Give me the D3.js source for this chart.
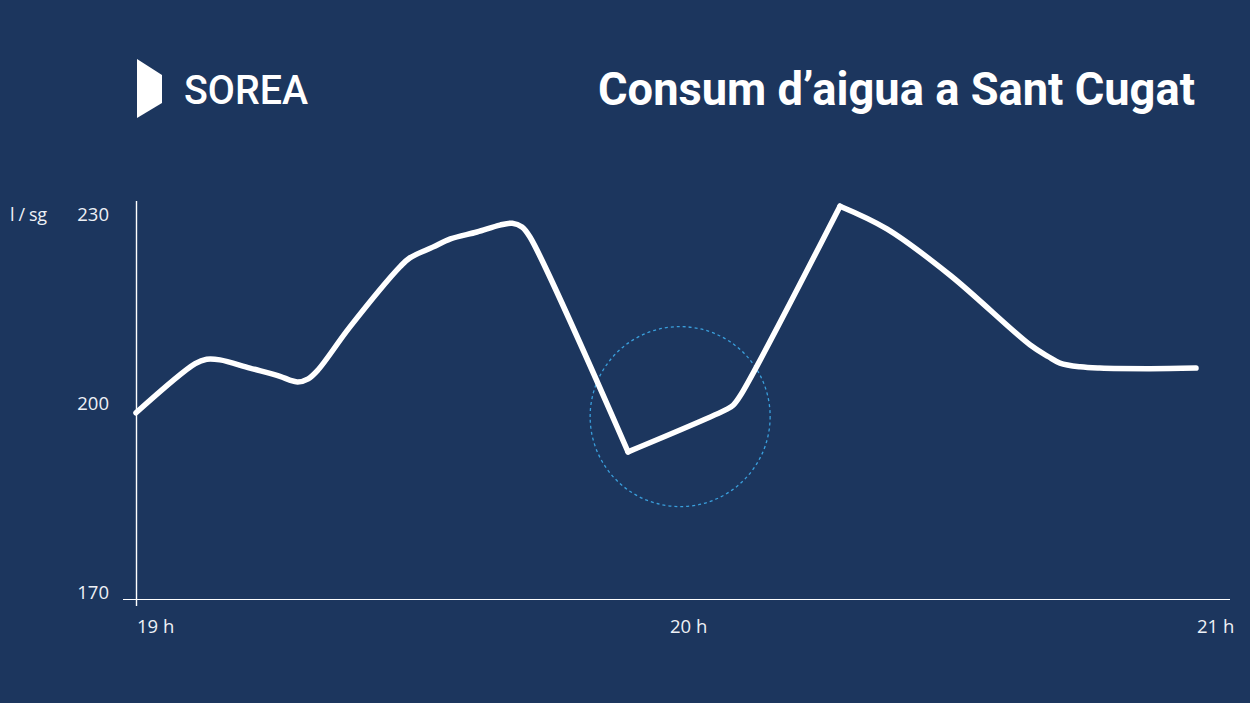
<!DOCTYPE html>
<html><head><meta charset="utf-8">
<script src="https://cdn.jsdelivr.net/npm/d3@7"></script>
<style>
html,body{margin:0;padding:0;background:#1c365e;}
svg{display:block;}
</style></head>
<body>
<svg id="chart" width="1250" height="703"></svg>
<script>
// Data: minutes after 19 h, flow in l/sg
const minutes = [0, 6.7, 8.0, 9.5, 12.9, 16.3, 17.4, 18.3, 19.5, 20.6, 24.2, 29.9, 31.0, 33.6, 35.6, 38.6, 41.2, 42.6, 43.7, 44.6, 55.7, 66.8, 67.6, 68.4, 79.7, 85.0, 92.2, 101.2, 103.3, 104.6, 106.9, 109.1, 114.8, 120];
const flow    = [198.6, 206.4, 207.1, 207.0, 205.7, 204.4, 203.8, 203.5, 204.0, 205.4, 212.2, 221.8, 223.2, 224.9, 226.2, 227.3, 228.4, 228.7, 228.1, 226.5, 192.4, 199.1, 199.8, 201.3, 231.4, 227.8, 220.4, 209.4, 207.5, 206.5, 205.9, 205.7, 205.6, 205.7];
const sharpCorners = [55.7, 79.7]; // minutes where the line has a sharp corner
const yTicks = [170, 200, 230];
const xTicks = [0, 60, 120];
const xTickLabels = ["19 h", "20 h", "21 h"];
const highlight = [61.6, 198.0]; // centre of the dashed circle (minute, value)

const svg = d3.select("#chart");
svg.append("rect").attr("width",1250).attr("height",703).attr("fill","#1c365e");

const x = d3.scaleLinear().domain([0,120]).range([136,1196]);
const y = d3.scaleLinear().domain([170,230]).range([593,215]);

// Logo
svg.append("path")
  .attr("d","M137,59 L162,75 L162,103 L137,118 Z")
  .attr("fill","#ffffff");
svg.append("text").attr("x",184).attr("y",104)
  .attr("font-family","Roboto").attr("font-weight",500).attr("font-size",41).attr("fill","#ffffff")
  .attr("textLength",124).attr("lengthAdjust","spacingAndGlyphs")
  .text("SOREA");

// Title
svg.append("text").attr("x",1195).attr("y",105).attr("text-anchor","end")
  .attr("font-family","Roboto").attr("font-weight",700).attr("font-size",46).attr("fill","#ffffff")
  .attr("textLength",597).attr("lengthAdjust","spacingAndGlyphs")
  .text("Consum d\u2019aigua a Sant Cugat");

// Axes
svg.append("line").attr("x1",136.5).attr("x2",136.5).attr("y1",201).attr("y2",606)
  .attr("stroke","#ffffff").attr("stroke-width",1.4);
svg.append("line").attr("x1",123).attr("x2",1230).attr("y1",599.5).attr("y2",599.5)
  .attr("stroke","#ffffff").attr("stroke-width",1.2);

const labelColor = "#eef1f6";
svg.selectAll("text.ytick").data(yTicks).enter().append("text")
  .attr("class","ytick")
  .attr("x",109).attr("y",d=>y(d)+6).attr("text-anchor","end")
  .attr("font-family","Open Sans").attr("font-size",18.5).attr("fill",labelColor)
  .text(d=>d);
svg.append("text").attr("x",10).attr("y",221)
  .attr("font-family","Open Sans").attr("font-size",18).attr("fill",labelColor)
  .attr("textLength",37).attr("lengthAdjust","spacing")
  .text("l / sg");
svg.selectAll("text.xtick").data(xTicks).enter().append("text")
  .attr("class","xtick")
  .attr("x",(d,i)=>x(d)+1 + (i===1?3:0)).attr("y",633)
  .attr("font-family","Open Sans").attr("font-size",18.5).attr("fill",labelColor)
  .text((d,i)=>xTickLabels[i]);

// Highlight circle
svg.append("circle")
  .attr("cx",x(highlight[0])).attr("cy",y(highlight[1])).attr("r",90)
  .attr("fill","none").attr("stroke","#3a9fdc").attr("stroke-width",1.3)
  .attr("stroke-dasharray","3,3");

// Line, smooth between sharp corners
const pts = minutes.map((m,i)=>[m, flow[i]]);
const segments = [];
let cur = [];
pts.forEach(p=>{
  cur.push(p);
  if (sharpCorners.includes(p[0])) { segments.push(cur); cur = [p]; }
});
segments.push(cur);
const line = d3.line().x(d=>x(d[0])).y(d=>y(d[1])).curve(d3.curveCatmullRom.alpha(0.5));
svg.selectAll("path.seg").data(segments).enter().append("path")
  .attr("class","seg").attr("d",line)
  .attr("fill","none").attr("stroke","#ffffff").attr("stroke-width",5.5)
  .attr("stroke-linejoin","round").attr("stroke-linecap","round");
</script>
</body></html>
